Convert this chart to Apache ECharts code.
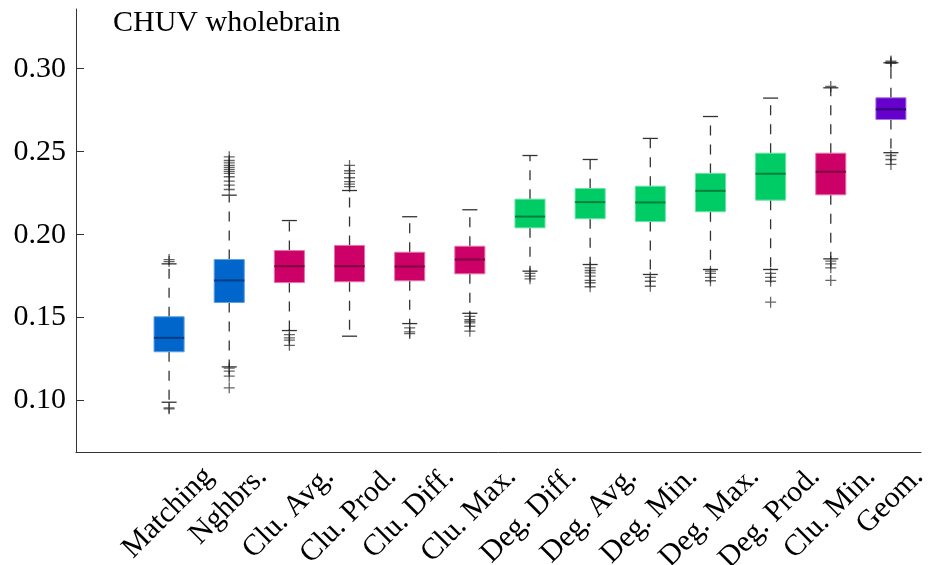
<!DOCTYPE html>
<html>
<head>
<meta charset="utf-8">
<title>CHUV wholebrain</title>
<script src="https://cdn.jsdelivr.net/npm/echarts@6/dist/echarts.min.js"></script>
<style>
  html, body { margin: 0; padding: 0; background: #fff; }
  #chart { width: 929px; height: 565px; }
</style>
</head>
<body>
<div id="chart"></div>
<script>
// categories, left to right
const categories = ['Matching', 'Nghbrs.', 'Clu. Avg.', 'Clu. Prod.', 'Clu. Diff.', 'Clu. Max.',
  'Deg. Diff.', 'Deg. Avg.', 'Deg. Min.', 'Deg. Max.', 'Deg. Prod.', 'Clu. Min.', 'Geom.']
// colour group of each category
const groups = ['blue', 'blue', 'red', 'red', 'red', 'red',
  'green', 'green', 'green', 'green', 'green', 'red', 'purple']

// box statistics
const whiskerLow = [0.0990, 0.1203, 0.1422, 0.1388, 0.1464, 0.1526, 0.1780, 0.1820, 0.1760, 0.1790, 0.1790, 0.1854, 0.2494]
const q1 = [0.1294, 0.1591, 0.1711, 0.1716, 0.1722, 0.1764, 0.2041, 0.2096, 0.2079, 0.2138, 0.2208, 0.2240, 0.2694]
const medians = [0.1378, 0.1724, 0.1810, 0.1810, 0.1808, 0.1850, 0.2109, 0.2196, 0.2194, 0.2264, 0.2367, 0.2379, 0.2755]
const q3 = [0.1505, 0.1850, 0.1904, 0.1935, 0.1894, 0.1930, 0.2214, 0.2278, 0.2292, 0.2369, 0.2491, 0.2491, 0.2825]
const whiskerHigh = [0.1824, 0.2238, 0.2085, 0.2266, 0.2108, 0.2150, 0.2477, 0.2453, 0.2580, 0.2712, 0.2823, 0.2885, 0.3036]

// outliers per category
const outliers = [
  [0.1850, 0.1838, 0.0956, 0.0950],
  [0.2272, 0.2298, 0.2322, 0.2349, 0.2369, 0.2381, 0.2393, 0.2405, 0.2417, 0.2433, 0.2447, 0.2469, 0.1195, 0.1177, 0.1147, 0.1077],
  [0.1398, 0.1378, 0.1364, 0.1333],
  [0.2289, 0.2305, 0.2319, 0.2343, 0.2369, 0.2385, 0.2417],
  [0.1438, 0.1414, 0.1404],
  [0.1508, 0.1488, 0.1478, 0.1468, 0.1448, 0.1418],
  [0.1766, 0.1750, 0.1734],
  [0.1800, 0.1784, 0.1770, 0.1750, 0.1725, 0.1710, 0.1686],
  [0.1743, 0.1719, 0.1689],
  [0.1780, 0.1766, 0.1743, 0.1722],
  [0.1766, 0.1742, 0.1719, 0.1593],
  [0.2893, 0.1840, 0.1824, 0.1800, 0.1724],
  [0.3046, 0.3040, 0.3032, 0.2477, 0.2453, 0.2423],
]

const yTicks = [0.10, 0.15, 0.20, 0.25, 0.30]

const palette = {
  blue: { fill: '#0066CC', edge: '#5c9fe3', median: '#003d85' },
  red: { fill: '#CC0066', edge: '#e374ab', median: '#7d0040' },
  green: { fill: '#00CC66', edge: '#6ae3a4', median: '#00803f' },
  purple: { fill: '#6600CC', edge: '#a577e3', median: '#36007a' },
}

const FONT = 'Liberation Serif, Times New Roman, serif'
const FONT_SIZE = 30
const AXIS = '#333'
const yMin = 0.069
const yMax = 0.336

// rotated tick labels: bounding box centred under the tick, tops aligned
const measureCtx = document.createElement('canvas').getContext('2d')
measureCtx.font = FONT_SIZE + 'px "Liberation Serif"'
const labelWidths = categories.map(c => measureCtx.measureText(c).width)

const boxData = categories.map((c, i) => [i, whiskerLow[i], q1[i], medians[i], q3[i], whiskerHigh[i]])
const outlierData = []
outliers.forEach((list, i) => {
  list.forEach(v => outlierData.push([i, v]))
})

function renderBox(params, api) {
  let idx = api.value(0)
  let lo = api.coord([idx, api.value(1)])
  let b1 = api.coord([idx, api.value(2)])
  let md = api.coord([idx, api.value(3)])
  let b3 = api.coord([idx, api.value(4)])
  let hi = api.coord([idx, api.value(5)])
  let base = api.coord([idx, yMin])
  let w = api.size([1, 0])[0] * 0.5
  let x = b1[0]
  let col = palette[groups[idx]]
  let whisker = { stroke: AXIS, lineWidth: 1.3, lineDash: [10, 9] }
  let cap = { stroke: AXIS, lineWidth: 1.3 }
  return {
    type: 'group',
    children: [
      { type: 'line', shape: { x1: x, y1: b1[1], x2: x, y2: lo[1] }, style: whisker },
      { type: 'line', shape: { x1: x, y1: b3[1], x2: x, y2: hi[1] }, style: whisker },
      { type: 'line', shape: { x1: x - w / 4, y1: lo[1], x2: x + w / 4, y2: lo[1] }, style: cap },
      { type: 'line', shape: { x1: x - w / 4, y1: hi[1], x2: x + w / 4, y2: hi[1] }, style: cap },
      {
        type: 'rect',
        shape: { x: x - w / 2, y: b3[1], width: w, height: b1[1] - b3[1] },
        style: { fill: col.fill, stroke: col.edge, lineWidth: 1 },
      },
      { type: 'line', shape: { x1: x - w / 2, y1: md[1], x2: x + w / 2, y2: md[1] }, style: { stroke: col.median, lineWidth: 2 } },
      {
        type: 'text',
        x: x - 1,
        y: base[1] + 20 + 0.354 * labelWidths[idx],
        rotation: Math.PI / 4,
        style: {
          text: categories[idx],
          align: 'center',
          verticalAlign: 'middle',
          fontFamily: FONT,
          fontSize: FONT_SIZE,
          fill: '#000',
        },
      },
    ],
  }
}

const chart = echarts.init(document.getElementById('chart'), null, { renderer: 'canvas' })

chart.setOption({
  animation: false,
  backgroundColor: '#fff',
  title: {
    text: 'CHUV wholebrain',
    left: 113,
    top: 8,
    padding: 0,
    textStyle: { fontFamily: FONT, fontSize: FONT_SIZE, fontWeight: 'normal', color: '#000' },
  },
  grid: [
    { left: 76, right: 8, top: 9, bottom: 113, outerBoundsMode: 'none' },
    { left: 139, right: 8, top: 9, bottom: 113, outerBoundsMode: 'none' },
  ],
  xAxis: [
    {
      type: 'value',
      gridIndex: 0,
      min: 0,
      max: 1,
      axisLine: { show: true, onZero: false, lineStyle: { color: AXIS, width: 1 } },
      axisTick: { show: false },
      axisLabel: { show: false },
      splitLine: { show: false },
    },
    {
      type: 'category',
      gridIndex: 1,
      data: categories,
      boundaryGap: true,
      axisLine: { show: false },
      axisTick: { show: false },
      axisLabel: { show: false },
      splitLine: { show: false },
    },
  ],
  yAxis: [
    {
      type: 'value',
      gridIndex: 0,
      min: yMin,
      max: yMax,
      axisLine: { show: true, lineStyle: { color: AXIS, width: 1 } },
      axisTick: { show: true, inside: true, length: 8, customValues: yTicks, lineStyle: { color: AXIS } },
      axisLabel: {
        customValues: yTicks,
        formatter: v => v.toFixed(2),
        margin: 10,
        fontFamily: FONT,
        fontSize: FONT_SIZE,
        color: '#000',
      },
      splitLine: { show: false },
    },
    {
      type: 'value',
      gridIndex: 1,
      min: yMin,
      max: yMax,
      show: false,
    },
  ],
  series: [
    {
      type: 'custom',
      xAxisIndex: 1,
      yAxisIndex: 1,
      clip: false,
      renderItem: renderBox,
      encode: { x: 0, y: [1, 2, 3, 4, 5] },
      data: boxData,
      z: 2,
    },
    {
      type: 'scatter',
      xAxisIndex: 1,
      yAxisIndex: 1,
      symbol: 'path://M0,5L10,5M5,0L5,10',
      symbolSize: 11,
      itemStyle: { color: 'rgba(0,0,0,0)', borderColor: 'rgba(30,30,30,0.85)', borderWidth: 1.3 },
      data: outlierData,
      z: 3,
    },
  ],
})
</script>
</body>
</html>
